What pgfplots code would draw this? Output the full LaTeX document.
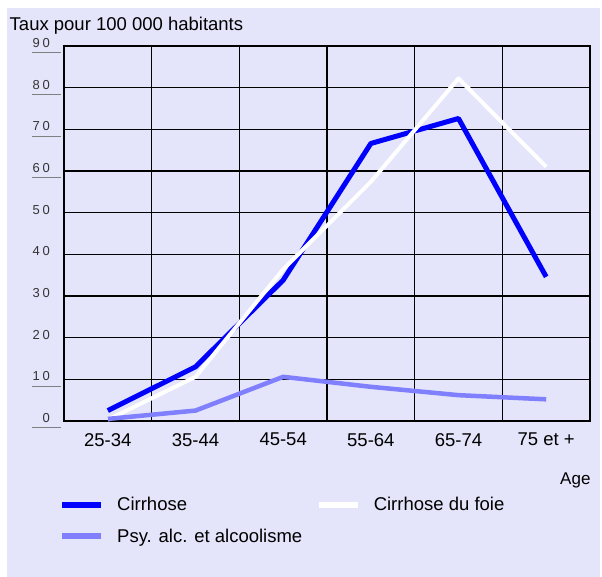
\documentclass[border=0pt]{standalone}
\usepackage{pgfplots}
\pgfplotsset{compat=1.18}
\usepackage{fontspec}
\setmainfont{Liberation Sans}
\newfontfamily\tickfont[LetterSpace=20]{Liberation Sans}
\definecolor{bg}{RGB}{228,228,250}
\definecolor{cirr}{RGB}{0,0,255}
\definecolor{psy}{RGB}{128,128,255}
\newcommand{\bigf}{\fontsize{18.5bp}{21bp}\selectfont}
\newcommand{\agef}{\fontsize{17bp}{19bp}\selectfont}
\begin{document}
\begin{tikzpicture}[x=1bp,y=1bp]
\fill[white] (0,0) rectangle (602,577);
\fill[bg] (7,0) rectangle (600,569);
\node[anchor=base west, inner sep=0pt, font=\bigf] at (9.5,546) {Taux pour 100 000 habitants};
\node[anchor=base west, inner sep=0pt, font=\agef] at (560,92) {Age};
\begin{axis}[
  at={(64bp,156bp)}, anchor=south west,
  scale only axis, width=526bp, height=375bp,
  xmin=-0.5, xmax=5.5, ymin=0, ymax=90,
  clip=false,
  xtick={0,1,2,3,4,5},
  xticklabels={25-34,35-44,45-54,55-64,65-74,75 et +},
  minor xtick={0.5,1.5,2.5,3.5,4.5},
  xminorgrids=true, xmajorgrids=false,
  ytick={0,10,20,30,40,50,60,70,80,90},
  yticklabels={0,10,20,30,40,50,60,70,80,90},
  ymajorgrids=true,
  grid style={black, line width=1.3bp},
  minor grid style={black, line width=1.3bp},
  axis line style={black, line width=1.3bp},
  major tick length=0pt, minor tick length=0pt,
  xticklabel style={font=\bigf, inner sep=0pt, anchor=north, yshift=-12bp},
  yticklabel style={font=\fontsize{13bp}{15bp}\tickfont, text=black!80, inner sep=0pt, anchor=east, xshift=-14bp, yshift=3bp},
  legend columns=2,
  legend cell align=left,
  legend image code/.code={\draw[#1, line width=6bp, line cap=butt] (0bp,0bp) -- (39bp,0bp);},
  legend style={draw=none, fill=none, font=\bigf, at={(0,0)}, anchor=north west,
    xshift=-5bp, yshift=-76bp, inner sep=0pt, nodes={inner sep=0pt},
    /tikz/every odd column/.append style={column sep=13bp},
    /tikz/every even column/.append style={column sep=13.5bp},
    row sep=16.5bp},
]
\addplot[cirr, line width=5bp, line join=round] coordinates {(0,2.5)(1,13)(2,33.8)(3,66.6)(4,72.6)(5,34.6)};
\addlegendentry{Cirrhose}
\addplot[white, line width=4bp, line join=round] coordinates {(0,0.3)(1,10.6)(2,36.4)(3,57.4)(4,82.2)(5,61)};
\addlegendentry{Cirrhose du foie}
\addplot[psy, line width=4.5bp, line join=round] coordinates {(0,0.5)(1,2.5)(2,10.6)(3,8.2)(4,6.2)(5,5.2)};
\addlegendentry{Psy. alc. et alcoolisme}
\pgfplotsinvokeforeach{0,10,60,70,80,90}{
  \draw[gray, line width=1bp] ([xshift=-32bp,yshift=-7bp]axis cs:-0.5,#1) -- ([xshift=-3bp,yshift=-7bp]axis cs:-0.5,#1);
}
\end{axis}
\end{tikzpicture}
\end{document}
